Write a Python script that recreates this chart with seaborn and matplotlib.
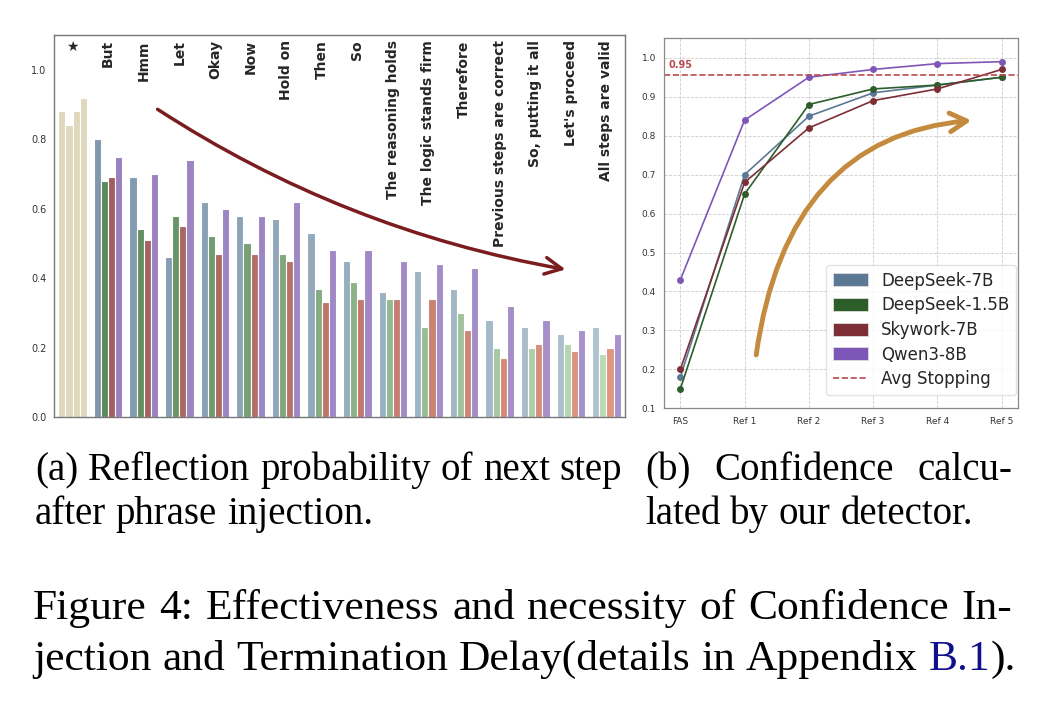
import numpy as np
import pandas as pd
import seaborn as sns
import matplotlib.pyplot as plt
from matplotlib.colors import to_rgb
from matplotlib.patches import Patch
from matplotlib.lines import Line2D

W, H = 1042, 714

# ---- data: (a) reflection probability after phrase injection ----
phrases = ['★', 'But', 'Hmm', 'Let', 'Okay', 'Now', 'Hold on', 'Then', 'So',
           'The reasoning holds', 'The logic stands firm', 'Therefore',
           'Previous steps are correct', 'So, putting it all', "Let's proceed",
           'All steps are valid']
models = ['DeepSeek-7B', 'DeepSeek-1.5B', 'Skywork-7B', 'Qwen3-8B']
ds7b_reflect = [0.88, 0.80, 0.69, 0.46, 0.62, 0.58, 0.57, 0.53, 0.45, 0.36, 0.42, 0.37, 0.28, 0.26, 0.24, 0.26]
ds15b_reflect = [0.84, 0.68, 0.54, 0.58, 0.52, 0.50, 0.47, 0.37, 0.39, 0.34, 0.26, 0.30, 0.20, 0.20, 0.21, 0.18]
sky_reflect = [0.88, 0.69, 0.51, 0.55, 0.47, 0.47, 0.45, 0.33, 0.34, 0.34, 0.34, 0.25, 0.17, 0.21, 0.19, 0.20]
qwen_reflect = [0.92, 0.75, 0.70, 0.74, 0.60, 0.58, 0.62, 0.48, 0.48, 0.45, 0.44, 0.43, 0.32, 0.28, 0.25, 0.24]

# ---- data: (b) detector confidence ----
steps = ['FAS', 'Ref 1', 'Ref 2', 'Ref 3', 'Ref 4', 'Ref 5']
ds7b_conf = [0.18, 0.70, 0.85, 0.91, 0.93, 0.95]
ds15b_conf = [0.15, 0.65, 0.88, 0.92, 0.93, 0.95]
sky_conf = [0.20, 0.68, 0.82, 0.89, 0.92, 0.97]
qwen_conf = [0.43, 0.84, 0.95, 0.97, 0.985, 0.99]
avg_stop = 0.955

# colours
start_cols = ['#7f98ad', '#5b8a5a', '#a15e5f', '#9a80c0']
end_cols = ['#aec3cf', '#bcdab6', '#e0967e', '#a992cb']
beige = '#e0d8bc'
line_cols = ['#5b7895', '#2d5e2a', '#7d2e36', '#7e56b8']
stop_col = '#b84a4e'

sns.set_style('white')
fig = plt.figure(figsize=(W / 100, H / 100), dpi=100)

# ---------------- left panel ----------------
rows = []
for m, vals in zip(models, [ds7b_reflect, ds15b_reflect, sky_reflect, qwen_reflect]):
    for p, v in zip(phrases, vals):
        rows.append({'phrase': p, 'model': m, 'prob': v})
df_bar = pd.DataFrame(rows)

ax1 = fig.add_axes([54 / W, 1 - 417 / H, 571 / W, 382 / H])
sns.barplot(data=df_bar, x='phrase', y='prob', hue='model', order=phrases,
            hue_order=models, width=0.8, saturation=1, legend=False,
            edgecolor='white', linewidth=0.8, ax=ax1)

n = len(phrases) - 1
for j, cont in enumerate(ax1.containers):
    c0, c1 = np.array(to_rgb(start_cols[j])), np.array(to_rgb(end_cols[j]))
    for i, bar in enumerate(cont):
        if i == 0:
            bar.set_facecolor(beige)
        else:
            t = (i - 1) / (n - 1)
            bar.set_facecolor(tuple(c0 + (c1 - c0) * t))

for i, p in enumerate(phrases):
    if i == 0:
        ax1.text(i, 1.085, p, ha='center', va='top', fontsize=10)
    else:
        ax1.text(i, 1.085, p, rotation=90, ha='center', va='top',
                 fontsize=10, fontweight='bold')

ax1.annotate('', xy=(13.85, 0.425), xytext=(2.39, 0.886),
             arrowprops=dict(arrowstyle='->,head_length=0.8,head_width=0.4',
                             connectionstyle='angle3,angleA=-33,angleB=-10',
                             color='#7b1c1f', lw=2.5, shrinkA=0, shrinkB=0,
                             mutation_scale=15))

ax1.set_ylim(0, 1.1)
ax1.set_xlim(-0.52, 15.52)
ax1.set_yticks([0.0, 0.2, 0.4, 0.6, 0.8, 1.0])
ax1.set_xticks([])
ax1.set_xlabel('')
ax1.set_ylabel('')
ax1.tick_params(axis='y', labelsize=7, labelcolor='#333333', length=2, color='#777777')
for s in ax1.spines.values():
    s.set_color('#777777')
    s.set_linewidth(1.0)

# ---------------- right panel ----------------
rows = []
for m, vals in zip(models, [ds7b_conf, ds15b_conf, sky_conf, qwen_conf]):
    for k, v in enumerate(vals):
        rows.append({'step': k, 'model': m, 'conf': v})
df_conf = pd.DataFrame(rows)

ax2 = fig.add_axes([664.3 / W, 1 - 408.3 / H, 353.4 / W, 370 / H])
sns.lineplot(data=df_conf, x='step', y='conf', hue='model', hue_order=models,
             palette=line_cols, marker='o', markersize=5, markeredgewidth=0,
             linewidth=1.2, legend=False, ax=ax2)
ax2.axhline(avg_stop, color=stop_col, ls='--', lw=1.2)
ax2.text(-0.18, 0.973, '0.95', color=stop_col, fontsize=7, fontweight='bold', va='baseline')

ax2.annotate('', xy=(4.53, 0.839), xytext=(1.18, 0.237),
             arrowprops=dict(arrowstyle='->,head_length=0.8,head_width=0.45',
                             connectionstyle='angle3,angleA=82,angleB=5',
                             color='#c48a3e', lw=3.5, shrinkA=0, shrinkB=0,
                             mutation_scale=15))

ax2.set_xlim(-0.25, 5.25)
ax2.set_ylim(0.1, 1.05)
ax2.set_xticks(range(len(steps)))
ax2.set_xticklabels(steps)
ax2.set_yticks(np.round(np.arange(0.1, 1.01, 0.1), 1))
ax2.set_xlabel('')
ax2.set_ylabel('')
ax2.grid(True, linestyle='--', linewidth=0.6, color='#cccccc')
ax2.tick_params(labelsize=6.5, labelcolor='#333333', length=2.5, color='#777777')
for s in ax2.spines.values():
    s.set_color('#888888')
    s.set_linewidth(0.9)

handles = [Patch(facecolor=c, edgecolor='#dddddd', lw=0.6) for c in line_cols]
handles.append(Line2D([], [], color=stop_col, ls='--', lw=1.2))
ax2.legend(handles, models + ['Avg Stopping'], loc='lower right',
           bbox_to_anchor=(0.995, 0.036), borderaxespad=0, fontsize=12,
           frameon=True, edgecolor='#dddddd', handlelength=2.1,
           handleheight=0.8, labelspacing=0.4)

# ---------------- captions ----------------
renderer = fig.canvas.get_renderer()


def put_line(words, x0, y, size, x1=None):
    # words: list of words, each word a list of (text, colour) parts
    placed = []
    for word in words:
        parts = []
        for s, c in word:
            t = fig.text(0, 0, s, fontsize=size, family='Liberation Serif',
                         color=c, va='baseline')
            parts.append((t, t.get_window_extent(renderer).width))
        placed.append(parts)
    widths = [sum(w for _, w in p) for p in placed]
    if x1 is None:
        a = fig.text(0, 0, 'a a', fontsize=size, family='Liberation Serif')
        b = fig.text(0, 0, 'aa', fontsize=size, family='Liberation Serif')
        gap = a.get_window_extent(renderer).width - b.get_window_extent(renderer).width
        a.remove()
        b.remove()
    else:
        gap = (x1 - x0 - sum(widths)) / (len(placed) - 1)
    x = x0
    for parts in placed:
        for t, w in parts:
            t.set_position((x / W, 1 - y / H))
            x += w
        x += gap


def plain(line):
    return [[(w, 'black')] for w in line.split()]


put_line(plain('(a) Reflection probability of next step'), 35, 480, 28, x1=622)
put_line(plain('after phrase injection.'), 35, 524, 28)
put_line(plain('(b) Confidence calcu-'), 645, 480, 28, x1=1012)
put_line(plain('lated by our detector.'), 645, 524, 28)
put_line(plain('Figure 4: Effectiveness and necessity of Confidence In-'), 33, 619, 31.3, x1=1012)
cap2 = plain('jection and Termination Delay(details in Appendix')
cap2.append([('B.1', '#10108a'), (').', 'black')])
put_line(cap2, 33, 670, 31.3)

fig.savefig('out.png', dpi=100)
